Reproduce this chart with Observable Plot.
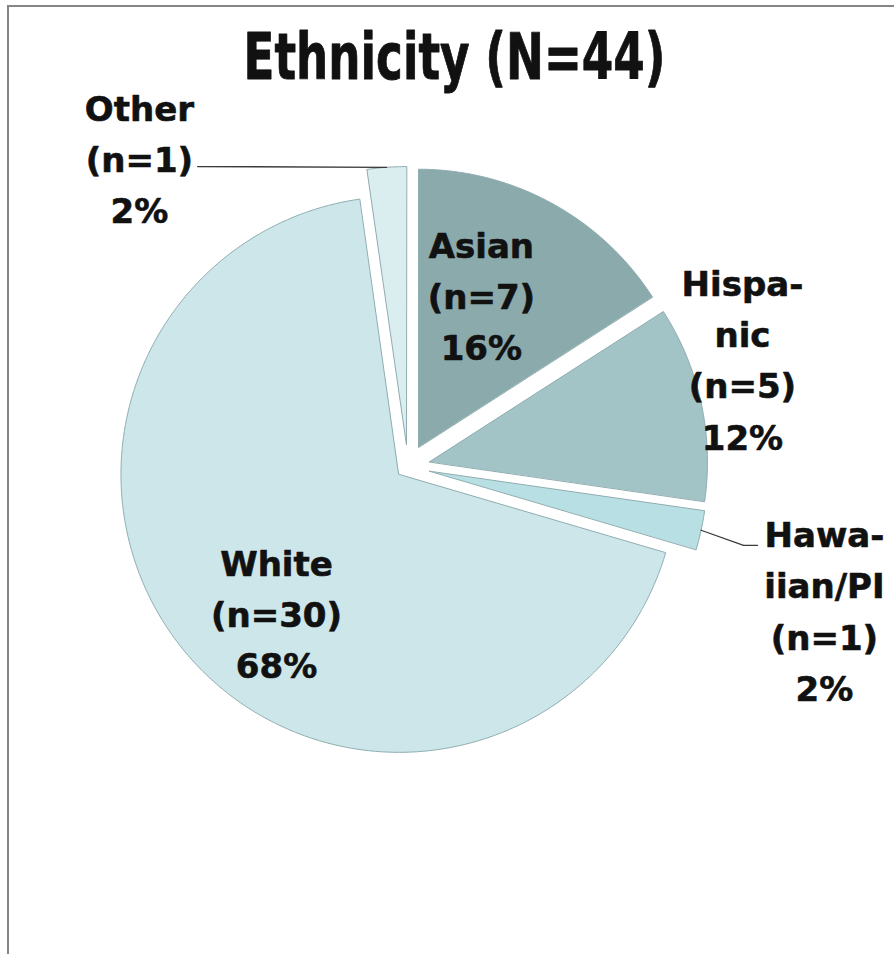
<!DOCTYPE html>
<html><head><meta charset="utf-8">
<script src="https://cdn.jsdelivr.net/npm/d3@7"></script>
<script src="https://cdn.jsdelivr.net/npm/@observablehq/plot@0.6"></script>
<style>
html,body{margin:0;padding:0;background:#fff;overflow:hidden;width:894px;height:954px;}
#frame{position:absolute;left:7px;top:5px;width:920px;height:980px;border-left:2px solid #858585;border-top:2px solid #858585;}
#chart{position:absolute;left:0;top:0;}
</style></head><body>
<div id="frame"></div><div id="chart"></div>
<script>
// ---- data ----
const categories = ["Asian", "Hispanic", "Hawaiian/PI", "White", "Other"];
const counts = [7, 5, 1, 30, 1];
const percents = [16, 12, 2, 68, 2];
const labelNames = ["Asian", "Hispa-\nnic", "Hawa-\niian/PI", "White", "Other"];
const colors = ["#8BAAAC", "#A3C4C6", "#B8DFE3", "#CCE6EA", "#DAEDEF"];
const titleText = `Ethnicity (N=${d3.sum(counts)})`;

// ---- layout (in pie-radius units, origin at pie centre, y up) ----
const W = 894, H = 954, CX = 407.5, CY = 466, R = 278;
const explode = [0.079, 0.079, 0.079, 0.043, 0.079];
const labelPos = [[0.264, 0.626], [1.203, 0.397], [1.498, -0.507], [-0.473, -0.518], [-0.966, 1.119]];
const leaderEnds = {"Other": [[-0.757, 1.079]], "Hawaiian/PI": [[1.207, -0.284], [1.257, -0.284]]};

const arcs = d3.pie().sort(null)(counts);
const slicePts = [];
const leaderPts = [];
const labels = [];
arcs.forEach((a, i) => {
  const cat = categories[i];
  const m = (a.startAngle + a.endAngle) / 2;
  const ox = Math.sin(m) * explode[i], oy = Math.cos(m) * explode[i];
  slicePts.push({cat, x: ox, y: oy});
  const n = Math.max(4, Math.ceil((a.endAngle - a.startAngle) / (Math.PI / 360)));
  for (let k = 0; k <= n; k++) {
    const t = a.startAngle + (a.endAngle - a.startAngle) * k / n;
    slicePts.push({cat, x: ox + Math.sin(t), y: oy + Math.cos(t)});
  }
  if (leaderEnds[cat]) {
    leaderPts.push({cat, x: ox + Math.sin(m), y: oy + Math.cos(m)});
    for (const [x, y] of leaderEnds[cat]) leaderPts.push({cat, x, y});
  }
  labels.push({cat, x: labelPos[i][0], y: labelPos[i][1],
    text: `${labelNames[i]}\n(n=${counts[i]})\n${percents[i]}%`});
});

const plot = Plot.plot({
  width: W, height: H, margin: 0,
  x: {domain: [-CX / R, (W - CX) / R], axis: null},
  y: {domain: [(CY - H) / R, CY / R], axis: null},
  color: {domain: categories, range: colors},
  style: {background: "transparent"},
  marks: [
    Plot.line(slicePts, {x: "x", y: "y", z: "cat", fill: "cat", stroke: "#8fadb0", strokeWidth: 1, curve: "linear-closed"}),
    Plot.line(leaderPts, {x: "x", y: "y", z: "cat", stroke: "#3a3a3a", strokeWidth: 1.3}),
    Plot.text(labels, {x: "x", y: "y", text: "text", fontSize: 34, fontWeight: "bold",
      fontFamily: "'DejaVu Sans', sans-serif", lineHeight: 1.51, lineAnchor: "middle", fill: "#111",
      stroke: "#111", strokeWidth: 0.6}),
    Plot.text([titleText], {text: d => d, frameAnchor: "top", dx: 7, dy: 58, lineAnchor: "middle",
      fontSize: 64, fontWeight: "bold", fontFamily: "'Liberation Sans Narrow', 'DejaVu Sans Condensed', 'DejaVu Sans', sans-serif",
      fill: "#111", stroke: "#111", strokeWidth: 0.8, className: "chart-title"})
  ]
});
const t = plot.querySelector(".chart-title text");
if (t) { t.setAttribute("textLength", "422"); t.setAttribute("lengthAdjust", "spacingAndGlyphs"); }
document.getElementById("chart").appendChild(plot);
</script>
</body></html>
